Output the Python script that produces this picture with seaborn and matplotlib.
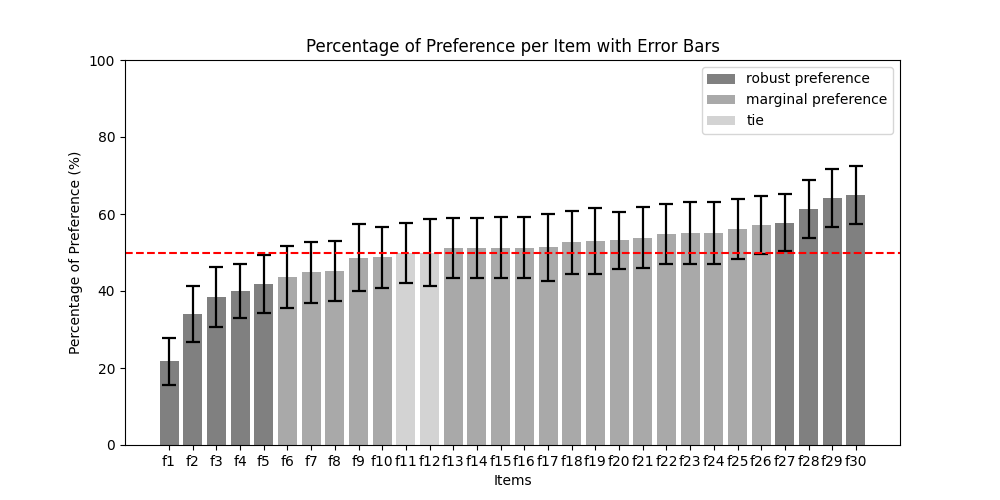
import matplotlib
matplotlib.use("Agg")
import matplotlib.pyplot as plt
import seaborn as sns
import pandas as pd
from matplotlib.patches import Patch

items = [f"f{i}" for i in range(1, 31)]
values = [21.8, 34.0, 38.4, 40.0, 41.8, 43.6, 44.9, 45.2, 48.6, 48.8,
          49.9, 49.9, 51.2, 51.2, 51.2, 51.2, 51.4, 52.7, 53.0, 53.2,
          53.8, 54.8, 55.1, 55.1, 56.1, 57.1, 57.7, 61.3, 64.2, 64.9]
errors = [6.1, 7.2, 7.8, 7.0, 7.5, 8.0, 7.9, 7.7, 8.7, 7.9,
          7.7, 8.7, 7.8, 7.8, 7.9, 7.9, 8.7, 8.2, 8.6, 7.4,
          7.9, 7.7, 8.0, 8.0, 7.8, 7.6, 7.4, 7.5, 7.6, 7.6]
categories = (["robust preference"] * 5 + ["marginal preference"] * 5 +
              ["tie"] * 2 + ["marginal preference"] * 14 + ["robust preference"] * 4)
cat_order = ["robust preference", "marginal preference", "tie"]
palette = {"robust preference": "gray", "marginal preference": "darkgray", "tie": "lightgray"}

df = pd.DataFrame({"item": items, "value": values, "category": categories})

fig, ax = plt.subplots(figsize=(10, 5), dpi=100)
sns.barplot(data=df, x="item", y="value", hue="category", hue_order=cat_order,
            palette=palette, dodge=False, width=0.8, saturation=1, ax=ax, legend=False)
ax.errorbar(range(len(items)), values, yerr=errors, fmt="none", ecolor="black",
            capsize=5, elinewidth=1.6, capthick=1.6)
ax.axhline(50, color="red", linestyle="--", linewidth=1.5)
ax.set_ylim(0, 100)
ax.set_xlim(-1.86, len(items) - 1 + 1.86)
ax.set_yticks([0, 20, 40, 60, 80, 100])
ax.set_xlabel("Items")
ax.set_ylabel("Percentage of Preference (%)")
ax.set_title("Percentage of Preference per Item with Error Bars")
handles = [Patch(facecolor=palette[c], label=c) for c in cat_order]
ax.legend(handles=handles, loc="upper right")
fig.savefig("out.png", dpi=100)
